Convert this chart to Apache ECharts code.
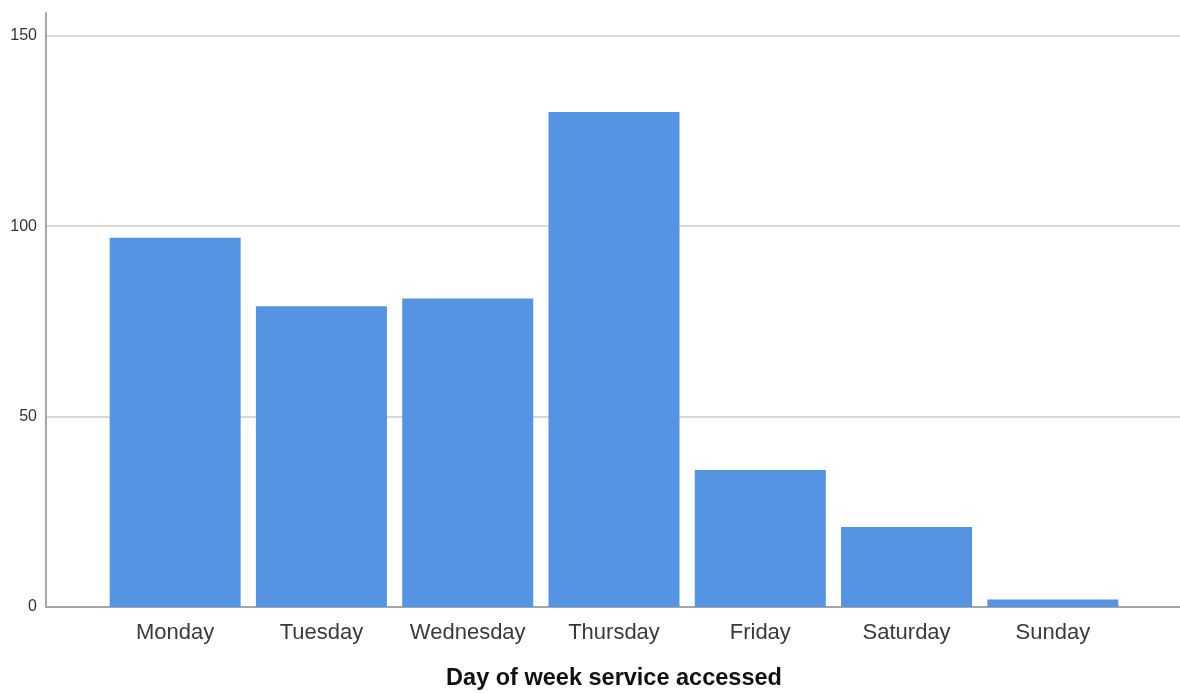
<!DOCTYPE html>
<html>
<head>
<meta charset="utf-8">
<script src="https://cdn.jsdelivr.net/npm/echarts@6/dist/echarts.min.js"></script>
<style>
  html, body { margin: 0; padding: 0; background: #fff; }
  #chart { width: 1180px; height: 693px; }
</style>
</head>
<body>
<div id="chart"></div>
<script>
// data
let days = ['Monday', 'Tuesday', 'Wednesday', 'Thursday', 'Friday', 'Saturday', 'Sunday'];
let counts = [97, 79, 81, 130, 36, 21, 2];
let xTitle = 'Day of week service accessed';

let chart = echarts.init(document.getElementById('chart'));

let option = {
  backgroundColor: '#fff',
  animation: false,
  grid: [
    // full-width frame: y axis, grid lines, baseline
    { left: 46, right: 0, top: 13, bottom: 86, outerBoundsMode: 'none' },
    // narrower band where the bars sit
    { left: 102, right: 54, top: 13, bottom: 86, outerBoundsMode: 'none' }
  ],
  xAxis: [
    {
      gridIndex: 0,
      type: 'value',
      min: 0,
      max: 1,
      axisLine: { show: true, lineStyle: { color: '#a6a6a6', width: 2 } },
      axisTick: { show: false },
      axisLabel: { show: false },
      splitLine: { show: false }
    },
    {
      gridIndex: 1,
      type: 'category',
      data: days,
      axisLine: { show: false },
      axisTick: { show: false },
      axisLabel: {
        interval: 0,
        color: '#3a3a3a',
        fontSize: 22,
        fontFamily: 'Liberation Sans, Arial, sans-serif',
        margin: 15
      },
      name: xTitle,
      nameLocation: 'middle',
      nameGap: 60,
      nameTextStyle: {
        color: '#111',
        fontSize: 23.5,
        fontWeight: 'bold',
        fontFamily: 'Liberation Sans, Arial, sans-serif'
      }
    }
  ],
  yAxis: [
    {
      gridIndex: 0,
      type: 'value',
      min: 0,
      max: 156,
      interval: 50,
      axisLine: { show: true, lineStyle: { color: '#a6a6a6', width: 2 } },
      axisTick: { show: false },
      axisLabel: {
        color: '#333',
        fontSize: 16,
        fontFamily: 'Liberation Sans, Arial, sans-serif',
        margin: 9,
        showMaxLabel: false
      },
      splitLine: {
        show: true,
        showMinLine: false,
        showMaxLine: false,
        lineStyle: { color: '#d9d9d9', width: 2 }
      }
    },
    {
      gridIndex: 1,
      type: 'value',
      min: 0,
      max: 156,
      show: false,
      splitLine: { show: false }
    }
  ],
  series: [
    {
      type: 'bar',
      xAxisIndex: 1,
      yAxisIndex: 1,
      data: counts,
      barWidth: 131,
      itemStyle: { color: '#5594e3' },
      z: 3
    }
  ]
};

chart.setOption(option);
</script>
</body>
</html>
